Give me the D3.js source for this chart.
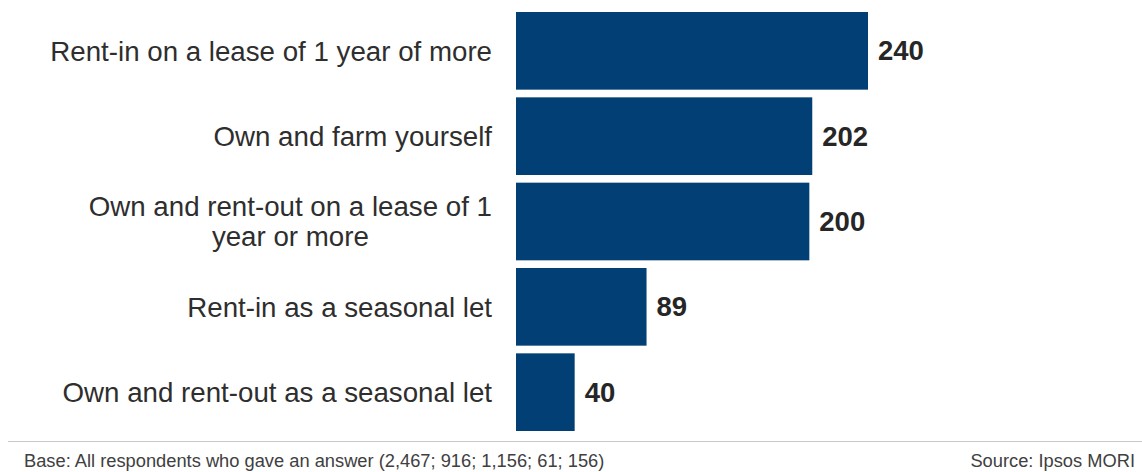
<!DOCTYPE html>
<html>
<head>
<meta charset="utf-8">
<script src="https://cdn.jsdelivr.net/npm/d3@7"></script>
<style>
  html, body { margin: 0; padding: 0; background: #fff; }
  svg { display: block; font-family: "Liberation Sans", Arial, sans-serif; }
</style>
</head>
<body>
<svg id="chart" width="1142" height="472"></svg>
<script>
// Land tenure categories and respondent counts
const categories = [
  "Rent-in on a lease of 1 year of more",
  "Own and farm yourself",
  "Own and rent-out on a lease of 1\nyear or more",
  "Rent-in as a seasonal let",
  "Own and rent-out as a seasonal let"
];
const values = [240, 202, 200, 89, 40];
const baseNote = "Base: All respondents who gave an answer (2,467; 916; 1,156; 61; 156)";
const sourceNote = "Source: Ipsos MORI";

const svg = d3.select("#chart");
const W = 1142, H = 472;
const barColor = "#023f74";

const x = d3.scaleLinear().domain([0, 240]).range([516, 868]);
const y = d3.scaleBand().domain(categories).range([12, 431]).paddingInner(0.09).paddingOuter(0);

// Bars
svg.append("g").selectAll("rect")
  .data(values)
  .join("rect")
  .attr("x", x(0))
  .attr("y", (d, i) => y(categories[i]))
  .attr("width", d => x(d) - x(0))
  .attr("height", y.bandwidth())
  .attr("fill", barColor);

// Value labels
svg.append("g").selectAll("text")
  .data(values)
  .join("text")
  .attr("x", d => x(d) + 10)
  .attr("y", (d, i) => y(categories[i]) + y.bandwidth() / 2)
  .attr("dy", "0.35em")
  .attr("font-size", 27.5)
  .attr("font-weight", "bold")
  .attr("fill", "#262626")
  .text(d => d);

// Category labels (right-aligned block, lines centred within it)
const labelRight = 492;
const lineH = 30.5;
const labels = svg.append("g");
categories.forEach(cat => {
  const lines = cat.split("\n");
  const cy = y(cat) + y.bandwidth() / 2;
  const t = labels.append("text")
    .attr("font-size", 27.7)
    .attr("fill", "#2e2e2e");
  const spans = lines.map((ln, j) => t.append("tspan")
    .attr("y", cy + (j - (lines.length - 1) / 2) * lineH)
    .attr("dy", "0.35em")
    .text(ln));
  const maxW = d3.max(spans, s => s.node().getComputedTextLength());
  spans.forEach(s => s.attr("x", labelRight - maxW / 2).attr("text-anchor", "middle"));
});

// Footer rule and notes
svg.append("line")
  .attr("x1", 8).attr("x2", W)
  .attr("y1", 441.5).attr("y2", 441.5)
  .attr("stroke", "#c8c8c8").attr("stroke-width", 1);

svg.append("text")
  .attr("x", 24).attr("y", 467)
  .attr("font-size", 18.3)
  .attr("fill", "#404040")
  .text(baseNote);

svg.append("text")
  .attr("x", 1135).attr("y", 467)
  .attr("text-anchor", "end")
  .attr("font-size", 18.3)
  .attr("fill", "#404040")
  .text(sourceNote);
</script>
</body>
</html>
